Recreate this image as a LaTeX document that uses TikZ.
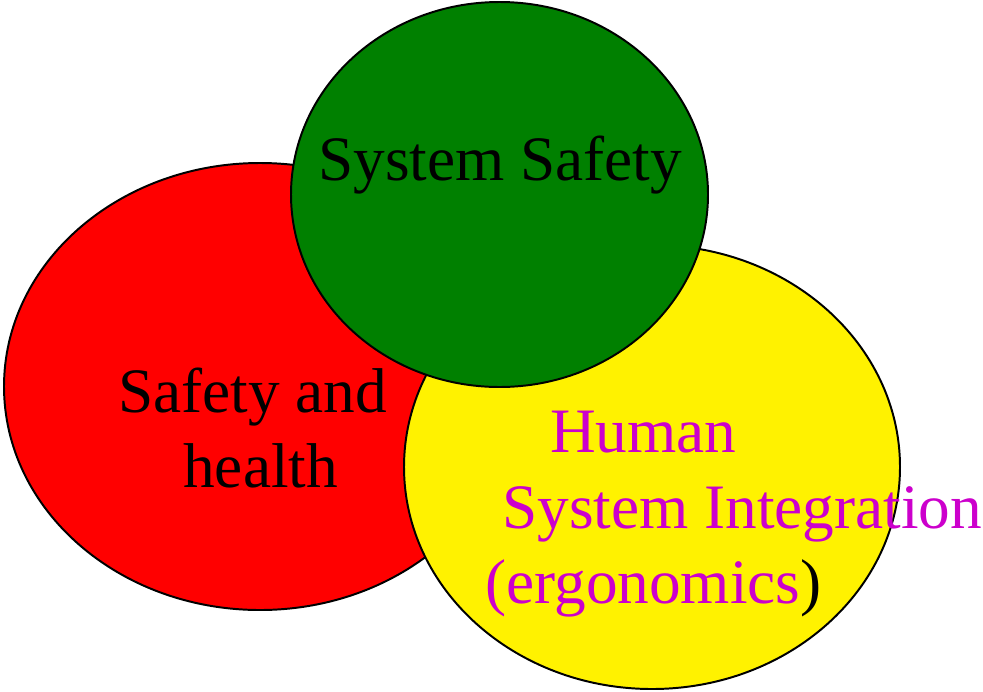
\documentclass[tikz,border=0pt]{standalone}
\usepackage{fontspec}
\setmainfont{Liberation Serif}
\usepackage{xcolor}

\definecolor{sysgreen}{RGB}{0,128,0}
\definecolor{hsimagenta}{RGB}{204,0,204}

\begin{document}
\begin{tikzpicture}[x=0.025cm,y=-0.025cm]
\tikzset{lbl/.style={anchor=base west,inner sep=0pt,font=\fontsize{45}{54}\selectfont}}
\useasboundingbox (0,0) rectangle (983,691);
% the three circles, back to front
\filldraw[fill=red,line width=1.4pt] (260,386.5) ellipse [x radius=256,y radius=223.5];
\filldraw[fill=yellow,line width=1.4pt] (652,467) ellipse [x radius=248,y radius=222];
\filldraw[fill=sysgreen,line width=1.4pt] (499.5,194.5) ellipse [x radius=208.5,y radius=192.5];
% labels
\node[lbl] (syssafety) at (318,180) {System Safety};
\node[lbl] (safety) at (118,412) {Safety and};
\node[lbl] (health) at (183,487) {health};
\node[lbl,text=hsimagenta] (human) at (550,452) {Human};
\node[lbl,text=hsimagenta] (hsi) at (502,528) {System Integration};
\node[lbl] (ergo) at (485,603) {\textcolor{hsimagenta}{(ergonomics})};
\end{tikzpicture}
\end{document}
